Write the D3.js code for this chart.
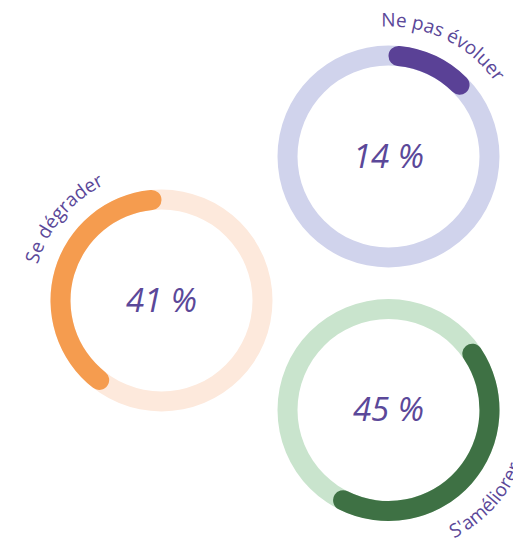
<!DOCTYPE html>
<html>
<head>
<meta charset="utf-8">
<script src="https://cdn.jsdelivr.net/npm/d3@7"></script>
<style>
  html, body { margin: 0; padding: 0; background: #fff; overflow: hidden; }
  svg { display: block; }
</style>
</head>
<body>
<svg id="chart" width="513" height="544"></svg>
<script>
// ---- data ----
const categories = ["Ne pas évoluer", "S'améliorer", "Se dégrader"];
const values = [14, 45, 41];
const valueLabels = ["14 %", "45 %", "41 %"];
const arcColors = ["#5a4196", "#3e7144", "#f59c4f"];
const trackColors = ["#d0d3ec", "#c9e4cd", "#fde9dc"];

// ---- layout (positions/styles) ----
const layout = [
  { cx: 388.5, cy: 156.5, labelAngle: 26, labelR: 130, dir: "cw" },
  { cx: 388.5, cy: 410, labelAngle: 133, labelR: 144, dir: "ccw" },
  { cx: 161.5, cy: 300.5, labelAngle: -50, labelR: 129, dir: "cw" }
];
const innerR = 91, outerR = 111;
const textColor = "#5b4899";
const fontFamily = "'Open Sans', 'Noto Sans', sans-serif";

const svg = d3.select("#chart");
const pie = d3.pie().sort(null).value(d => d)(values);

const track = d3.arc().innerRadius(innerR).outerRadius(outerR).startAngle(0).endAngle(2 * Math.PI);
const arc = d3.arc().innerRadius(innerR).outerRadius(outerR).cornerRadius((outerR - innerR) / 2);

function pt(cx, cy, r, deg) {
  const a = deg * Math.PI / 180;
  return [cx + r * Math.sin(a), cy - r * Math.cos(a)];
}

pie.forEach((p, i) => {
  const L = layout[i];
  const g = svg.append("g").attr("transform", `translate(${L.cx},${L.cy})`);
  g.append("path").attr("d", track()).attr("fill", trackColors[i]);
  g.append("path").attr("d", arc(p)).attr("fill", arcColors[i]);

  g.append("text")
    .attr("x", 0).attr("y", 11)
    .attr("text-anchor", "middle")
    .attr("font-family", fontFamily)
    .attr("font-style", "italic")
    .attr("font-size", 33)
    .attr("fill", textColor)
    .text(valueLabels[i]);

  // curved category label
  const span = 85;
  let a0, a1, sweep;
  if (L.dir === "cw") { a0 = L.labelAngle - span; a1 = L.labelAngle + span; sweep = 1; }
  else { a0 = L.labelAngle + span; a1 = L.labelAngle - span; sweep = 0; }
  const p0 = pt(L.cx, L.cy, L.labelR, a0);
  const p1 = pt(L.cx, L.cy, L.labelR, a1);
  const id = "lp" + i;
  svg.append("path").attr("id", id).attr("fill", "none")
    .attr("d", `M${p0[0]},${p0[1]} A${L.labelR},${L.labelR} 0 0 ${sweep} ${p1[0]},${p1[1]}`);
  svg.append("text")
    .attr("font-family", fontFamily)
    .attr("font-size", 19)
    .attr("fill", textColor)
    .append("textPath")
    .attr("href", "#" + id)
    .attr("startOffset", "50%")
    .attr("text-anchor", "middle")
    .text(categories[i]);
});
</script>
</body>
</html>
